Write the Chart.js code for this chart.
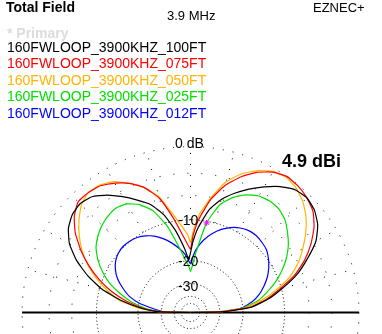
<!DOCTYPE html>
<html>
<head>
<meta charset="utf-8">
<script src="https://cdn.jsdelivr.net/npm/chart.js"></script>
<style>
  body { margin: 0; background: #fff; }
  #wrap { position: relative; width: 382px; height: 334px; overflow: hidden; font-family: "Liberation Sans", Arial, sans-serif; }
  #plot { position: absolute; left: 0; top: 0; }
  .t { position: absolute; white-space: nowrap; line-height: 1; }
</style>
</head>
<body>
<div id="wrap">
  <canvas id="plot" width="382" height="334"></canvas>
  <div class="t" style="left:6px;top:0px;font-size:14px;font-weight:bold">Total Field</div>
  <div class="t" style="left:167px;top:9px;font-size:13px">3.9 MHz</div>
  <div class="t" style="left:313px;top:1px;font-size:13px">EZNEC+</div>
  <div class="t" style="left:7px;top:26px;font-size:14px;font-weight:bold;color:#dcdcdc">* Primary</div>
  <div id="legend"></div>
  <div class="t" style="left:175px;top:136px;font-size:14px">0 dB</div>
  <div class="t" style="left:178px;top:213px;font-size:14px">-10</div>
  <div class="t" style="left:178px;top:254px;font-size:14px">-20</div>
  <div class="t" style="left:178px;top:279px;font-size:14px">-30</div>
  <div class="t" style="left:282px;top:152px;font-size:18px;font-weight:bold">4.9 dBi</div>
</div>
<script>
// elevation angles (deg) and total field gain (dBi) per antenna height
const angles = [0,1,2,5,10,15,20,25,30,35,40,45,50,55,60,65,70,75,80,85,88,90,92,95,100,105,110,115,120,125,130,135,140,145,150,155,160,165,170,175,178,179,180];

const names = ["160FWLOOP_3900KHZ_100FT","160FWLOOP_3900KHZ_075FT","160FWLOOP_3900KHZ_050FT","160FWLOOP_3900KHZ_025FT","160FWLOOP_3900KHZ_012FT"];
const colors = ["#000000","#ff0000","#ffb400","#00e000","#0000ff"];

const gain100 = [-99,-27.1,-21.1,-12.6,-8.1,-4.9,-1.9,0.3,2.3,3.5,4.2,4.5,4.3,3.6,2.6,1.5,0.3,-1.1,-3.1,-6.6,-9.6,-12.6,-14.6,-11.6,-7.1,-3.6,-1.4,-0.1,1.2,2.4,3.3,3.6,3.4,2.8,1.7,-0.1,-2.5,-5.5,-10.1,-16.1,-22.1,-28.1,-99];
const gain075 = [-99,-28.1,-22.1,-13.1,-8.6,-5.4,-2.3,-0.1,1.6,3.0,4.0,4.5,4.8,4.9,4.5,3.7,2.5,0.9,-1.4,-4.9,-8.1,-11.6,-10.6,-8.6,-4.6,-0.9,1.1,2.3,3.1,3.7,3.9,3.9,3.1,1.8,0.0,-2.1,-4.6,-7.6,-11.6,-17.1,-23.1,-29.1,-99];
const gain050 = [-99,-29.1,-23.1,-14.6,-9.6,-6.1,-3.1,-1.1,0.4,1.8,3.0,3.9,4.5,4.8,4.6,3.9,2.9,1.4,-1.1,-4.1,-7.1,-9.9,-8.1,-6.6,-3.8,-0.7,1.1,2.3,3.3,3.8,3.9,3.4,2.4,1.2,-0.2,-2.0,-4.1,-6.6,-9.6,-15.1,-22.1,-28.1,-99];
const gain025 = [-99,-30.1,-24.1,-15.1,-10.6,-8.1,-5.8,-3.9,-2.3,-1.0,0.0,0.9,1.4,1.5,1.3,0.7,-0.3,-1.9,-5.4,-12.6,-17.1,-19.1,-17.1,-15.1,-10.6,-5.6,-2.4,-0.8,0.1,0.4,0.2,-0.2,-0.8,-1.6,-2.9,-4.6,-6.7,-9.6,-13.1,-18.1,-24.1,-30.1,-99];
const gain012 = [-99,-28.1,-22.1,-15.6,-12.1,-9.9,-8.3,-6.9,-5.8,-4.9,-4.2,-3.9,-3.7,-3.8,-4.2,-4.9,-5.9,-7.3,-9.1,-11.6,-14.1,-16.1,-15.1,-13.1,-11.1,-9.4,-7.9,-6.7,-5.9,-5.3,-5.0,-4.9,-5.1,-5.6,-6.5,-7.8,-9.7,-11.9,-15.6,-22.1,-26.1,-31.1,-99];

const maxGain = 4.9;           // outer ring = 0 dB
const ringLevels = [0,-3,-6,-10,-20,-30,-40,-50];
const cursorAngle = 80;        // cursor on the 025FT trace

// ARRL log scale: 0.89 per 2 dB
function radius(g) {
  return Math.pow(0.89, (maxGain - g) / 2);
}
function toXY(angle, g) {
  const r = radius(g), a = angle * Math.PI / 180;
  return { x: r * Math.cos(a), y: r * Math.sin(a) };
}

const series = [gain100, gain075, gain050, gain025, gain012];

const datasets = series.map((g, i) => ({
  label: names[i],
  data: angles.map((a, k) => toXY(a, g[k])),
  showLine: true,
  borderColor: colors[i],
  borderWidth: 1.2,
  pointRadius: 0,
  tension: 0.15,
  fill: false
}));

datasets.unshift({
  label: "cursor",
  data: [toXY(cursorAngle, gain025[angles.indexOf(cursorAngle)])],
  pointStyle: "star",
  pointRadius: 3,
  borderColor: "#ff00ff",
  borderWidth: 1,
  showLine: false
});

// legend texts
const legend = document.getElementById("legend");
names.forEach((n, i) => {
  const d = document.createElement("div");
  d.className = "t";
  d.style.cssText = "left:7px;top:" + (39.5 + i * 16.6) + "px;font-size:14px;color:" + colors[i];
  d.textContent = n;
  legend.appendChild(d);
});

// dotted polar grid + ground line
const polarGrid = {
  id: "polarGrid",
  beforeDatasetsDraw(chart) {
    const ctx = chart.ctx, xs = chart.scales.x, ys = chart.scales.y;
    const cx = xs.getPixelForValue(0), cy = ys.getPixelForValue(0);
    const rx = xs.getPixelForValue(1) - cx, ry = cy - ys.getPixelForValue(1);
    ctx.save();
    ctx.strokeStyle = "#000";
    ctx.lineWidth = 1;
    ringLevels.forEach(l => {
      const r = radius(maxGain + l);
      ctx.setLineDash(l === 0 ? [1, 9] : (l > -10 ? [1, 13] : [1, 2.5]));
      ctx.beginPath();
      ctx.ellipse(cx, cy, rx * r, ry * r, 0, 0, Math.PI * 2);
      ctx.stroke();
    });
    ctx.setLineDash([1, 10]);
    const r0 = radius(maxGain - 10);
    for (let a = 0; a < 360; a += 15) {
      const t = a * Math.PI / 180;
      ctx.beginPath();
      ctx.moveTo(cx + rx * r0 * Math.cos(t), cy - ry * r0 * Math.sin(t));
      ctx.lineTo(cx + rx * Math.cos(t), cy - ry * Math.sin(t));
      ctx.stroke();
    }
    ctx.setLineDash([]);
    ctx.lineWidth = 2;
    ctx.beginPath();
    ctx.moveTo(cx - rx, cy);
    ctx.lineTo(cx + rx, cy);
    ctx.stroke();
    ctx.restore();
  }
};

new Chart(document.getElementById("plot"), {
  type: "scatter",
  data: { datasets: datasets },
  options: {
    responsive: false,
    animation: false,
    layout: { padding: 0 },
    plugins: { legend: { display: false }, tooltip: { enabled: false } },
    scales: {
      x: { type: "linear", min: -190.5 / 173, max: 191.5 / 173, display: false },
      y: { type: "linear", min: -17 / 171, max: 317 / 171, display: false }
    }
  },
  plugins: [polarGrid]
});
</script>
</body>
</html>
